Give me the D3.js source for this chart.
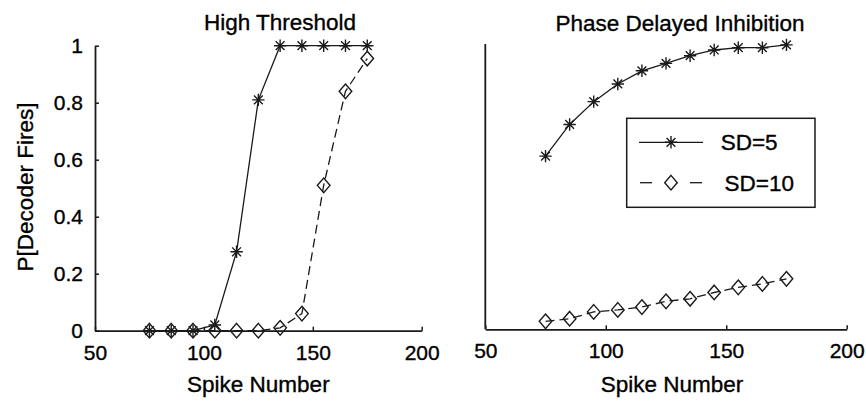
<!DOCTYPE html>
<html>
<head>
<meta charset="utf-8">
<script src="https://cdn.jsdelivr.net/npm/d3@7"></script>
<style>
  html, body { margin: 0; padding: 0; background: #fff; }
  svg { display: block; font-family: "Liberation Sans", Arial, Helvetica, sans-serif; }
  svg text { stroke: #000; stroke-width: 0.35px; }
</style>
</head>
<body>
<svg id="chart" width="866" height="402"></svg>
<script>
// ---- data ----
const spikeNumbers = [75, 85, 95, 105, 115, 125, 135, 145, 155, 165, 175];
const highThresholdSD5  = [0, 0, 0, 0.02, 0.277, 0.81, 1, 1, 1, 1, 1];
const highThresholdSD10 = [0, 0, 0, 0, 0, 0, 0.01, 0.06, 0.51, 0.84, 0.955];
const phaseDelayedSD5   = [0.607, 0.718, 0.798, 0.86, 0.906, 0.932, 0.959, 0.979, 0.987, 0.987, 0.997];
const phaseDelayedSD10  = [0.028, 0.037, 0.061, 0.068, 0.078, 0.098, 0.107, 0.129, 0.147, 0.159, 0.177];
const xTicks = [50, 100, 150, 200];
const yTicks = [0, 0.2, 0.4, 0.6, 0.8, 1];
const yTickLabels = ["0", "0.2", "0.4", "0.6", "0.8", "1"];
const panelTitles = ["High Threshold", "Phase Delayed Inhibition"];
const xLabel = "Spike Number";
const yLabel = "P[Decoder Fires]";
const seriesNames = ["SD=5", "SD=10"];

// ---- drawing ----
const svg = d3.select("#chart");
const ink = "#1a1a1a";

const panels = [
  { x: d3.scaleLinear().domain([50, 200]).range([95, 421.7]),
    y: d3.scaleLinear().domain([0, 1]).range([330.7, 45.7]),
    s5: highThresholdSD5, s10: highThresholdSD10, title: panelTitles[0],
    titleX: 280, titleY: 29.5, showY: true },
  { x: d3.scaleLinear().domain([50, 200]).range([485.3, 846.7]),
    y: d3.scaleLinear().domain([0, 1]).range([329.3, 44]),
    s5: phaseDelayedSD5, s10: phaseDelayedSD10, title: panelTitles[1],
    titleX: 680, titleY: 31, showY: false }
];

function asteriskPath(r) {
  const d = r * Math.SQRT1_2;
  return `M${-r},0H${r}M0,${-r}V${r}M${-d},${-d}L${d},${d}M${-d},${d}L${d},${-d}`;
}
function diamondPath(w, h) {
  return `M0,${-h}L${w},0L0,${h}L${-w},0Z`;
}

function drawMarkersStar(g, pts) {
  g.selectAll(null).data(pts).enter().append("path")
    .attr("transform", d => `translate(${d[0]},${d[1]})`)
    .attr("d", asteriskPath(6.2))
    .attr("fill", "none").attr("stroke", ink).attr("stroke-width", 1.4);
}
function drawMarkersDiamond(g, pts) {
  g.selectAll(null).data(pts).enter().append("path")
    .attr("transform", d => `translate(${d[0]},${d[1]})`)
    .attr("d", diamondPath(6.3, 7.3))
    .attr("fill", "none").attr("stroke", ink).attr("stroke-width", 1.4);
}

panels.forEach(p => {
  const g = svg.append("g");
  const [y0, y1] = p.y.range();

  // x axis
  const xAxis = d3.axisBottom(p.x).tickValues(xTicks).tickFormat(d3.format("d"))
    .tickSizeInner(-4).tickSizeOuter(0).tickPadding(14);
  const gx = g.append("g").attr("transform", `translate(0,${y0})`).call(xAxis);
  gx.select(".domain").attr("stroke", ink).attr("stroke-width", 1.8);
  gx.selectAll(".tick line").attr("stroke", ink).attr("stroke-width", 1.5);
  gx.selectAll(".tick text").attr("font-size", 21).attr("fill", "#000")
    .attr("font-family", "'Liberation Sans', Arial, sans-serif");

  const x0 = p.x.range()[0];
  if (p.showY) {
    const yAxis = d3.axisLeft(p.y).tickValues(yTicks).tickFormat((d, i) => yTickLabels[i])
      .tickSizeInner(-4).tickSizeOuter(0).tickPadding(12);
    const gy = g.append("g").attr("transform", `translate(${x0},0)`).call(yAxis);
    gy.select(".domain").attr("stroke", ink).attr("stroke-width", 1.8);
    gy.selectAll(".tick line").attr("stroke", ink).attr("stroke-width", 1.5);
    gy.selectAll(".tick text").attr("font-size", 21).attr("fill", "#000")
      .attr("font-family", "'Liberation Sans', Arial, sans-serif");
  } else {
    g.append("line").attr("x1", x0).attr("x2", x0).attr("y1", y0).attr("y2", y1)
      .attr("stroke", ink).attr("stroke-width", 1.8);
  }

  // lines
  const line = d3.line().x(d => p.x(d[0])).y(d => p.y(d[1]));
  const d5 = spikeNumbers.map((s, i) => [s, p.s5[i]]);
  const d10 = spikeNumbers.map((s, i) => [s, p.s10[i]]);
  g.append("path").attr("d", line(d10)).attr("fill", "none").attr("stroke", ink)
    .attr("stroke-width", 1.3).attr("stroke-dasharray", "9,5");
  g.append("path").attr("d", line(d5)).attr("fill", "none").attr("stroke", ink)
    .attr("stroke-width", 1.3);
  drawMarkersDiamond(g, d10.map(d => [p.x(d[0]), p.y(d[1])]));
  drawMarkersStar(g, d5.map(d => [p.x(d[0]), p.y(d[1])]));

  // title
  g.append("text").attr("x", p.titleX).attr("y", p.titleY).attr("text-anchor", "middle")
    .attr("font-size", 22.5).attr("fill", "#000").text(p.title);
  // x label
  const xc = (p.x.range()[0] + p.x.range()[1]) / 2 + (p.showY ? 0 : 6);
  g.append("text").attr("x", xc).attr("y", 392).attr("text-anchor", "middle")
    .attr("font-size", 22.5).attr("fill", "#000").text(xLabel);
});

// y label
svg.append("text").attr("transform", "translate(33,187) rotate(-90)")
  .attr("text-anchor", "middle").attr("font-size", 22.5).attr("fill", "#000").text(yLabel);

// legend
const lg = svg.append("g");
lg.append("rect").attr("x", 626.7).attr("y", 118.3).attr("width", 188.3).attr("height", 89)
  .attr("fill", "#fff").attr("stroke", ink).attr("stroke-width", 1.5);
const rows = [142.3, 182.7];
lg.append("line").attr("x1", 639).attr("x2", 703).attr("y1", rows[0]).attr("y2", rows[0])
  .attr("stroke", ink).attr("stroke-width", 1.3);
drawMarkersStar(lg, [[671, rows[0]]]);
[[640, 652], [690, 702]].forEach(seg => {
  lg.append("line").attr("x1", seg[0]).attr("x2", seg[1]).attr("y1", rows[1]).attr("y2", rows[1])
    .attr("stroke", ink).attr("stroke-width", 1.3);
});
drawMarkersDiamond(lg, [[671, rows[1]]]);
lg.selectAll(null).data(seriesNames).enter().append("text")
  .attr("x", (d, i) => i === 0 ? 720.7 : 724.5).attr("y", (d, i) => rows[i])
  .attr("dy", "0.36em").attr("font-size", 22.5).attr("fill", "#000").text(d => d);
</script>
</body>
</html>
